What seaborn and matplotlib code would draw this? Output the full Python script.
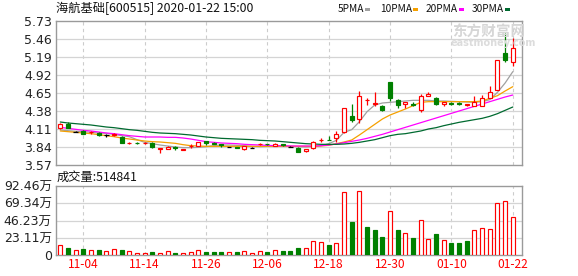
import numpy as np
import pandas as pd
import matplotlib
matplotlib.use("Agg")
import matplotlib.pyplot as plt
import seaborn as sns
from matplotlib.patches import Rectangle

# ---------------- data ----------------
trade_days = [d.strftime("%m-%d") for d in pd.bdate_range("2019-10-30", "2020-01-22")
              if d.strftime("%Y-%m-%d") != "2020-01-01"]

opens = [4.12, 4.18, 4.07, 4.085, 4.06, 4.055, 4.015, 4.025, 3.995, 3.90,
         3.90, 3.895, 3.895, 3.815, 3.81, 3.845, 3.80, 3.85, 3.85, 3.93,
         3.895, 3.89, 3.84, 3.84, 3.81, 3.83, 3.885, 3.885, 3.86, 3.88,
         3.845, 3.83, 3.78, 3.83, 3.94, 3.95, 3.98, 4.06, 4.31, 4.255,
         4.54, 4.49, 4.46, 4.81, 4.54, 4.49, 4.485, 4.40, 4.60, 4.57,
         4.48, 4.50, 4.50, 4.465, 4.46, 4.46, 4.58, 4.70, 5.25, 5.12]
closes = [4.18, 4.12, 4.07, 4.035, 4.065, 4.015, 4.015, 4.03, 3.905, 3.905,
          3.895, 3.90, 3.835, 3.82, 3.845, 3.82, 3.805, 3.86, 3.91, 3.90,
          3.885, 3.87, 3.84, 3.83, 3.85, 3.83, 3.89, 3.88, 3.89, 3.865,
          3.845, 3.77, 3.81, 3.92, 3.95, 3.94, 4.03, 4.42, 4.245, 4.605,
          4.55, 4.50, 4.39, 4.57, 4.47, 4.51, 4.475, 4.60, 4.64, 4.49,
          4.51, 4.49, 4.49, 4.48, 4.51, 4.57, 4.66, 5.14, 5.14, 5.32]
highs = [4.20, 4.215, 4.08, 4.09, 4.075, 4.06, 4.04, 4.05, 4.01, 3.91,
         3.92, 3.92, 3.91, 3.825, 3.85, 3.85, 3.81, 3.89, 3.91, 3.935,
         3.92, 3.89, 3.845, 3.845, 3.855, 3.84, 3.895, 3.885, 3.895, 3.885,
         3.85, 3.835, 3.815, 3.935, 3.97, 4.01, 4.075, 4.42, 4.48, 4.68,
         4.58, 4.67, 4.47, 4.81, 4.56, 4.515, 4.51, 4.63, 4.66, 4.585,
         4.51, 4.51, 4.51, 4.49, 4.61, 4.62, 4.76, 5.14, 5.545, 5.47]
lows = [4.11, 4.12, 4.06, 4.03, 4.04, 4.00, 3.99, 4.00, 3.905, 3.89,
        3.88, 3.88, 3.83, 3.755, 3.81, 3.80, 3.79, 3.83, 3.85, 3.87,
        3.88, 3.84, 3.835, 3.82, 3.80, 3.82, 3.87, 3.87, 3.86, 3.86,
        3.84, 3.765, 3.77, 3.81, 3.91, 3.94, 3.915, 4.05, 4.21, 4.195,
        4.47, 4.46, 4.38, 4.53, 4.42, 4.43, 4.46, 4.37, 4.60, 4.475,
        4.455, 4.47, 4.465, 4.46, 4.455, 4.45, 4.575, 4.69, 5.11, 5.06]

ma5 = [4.095, 4.085, 4.075, 4.07, 4.06, 4.05, 4.045, 4.03, 4.01, 3.995,
       3.95, 3.91, 3.89, 3.87, 3.855, 3.84, 3.83, 3.83, 3.835, 3.845,
       3.86, 3.87, 3.87, 3.865, 3.86, 3.85, 3.845, 3.85, 3.855, 3.855,
       3.85, 3.845, 3.84, 3.845, 3.86, 3.89, 3.94, 4.06, 4.10, 4.22,
       4.37, 4.47, 4.50, 4.51, 4.52, 4.53, 4.54, 4.54, 4.54, 4.53,
       4.53, 4.525, 4.52, 4.515, 4.51, 4.52, 4.55, 4.66, 4.80, 4.97]
ma10 = [4.08, 4.07, 4.06, 4.05, 4.04, 4.025, 4.01, 3.995, 3.975, 3.96,
        3.945, 3.93, 3.92, 3.915, 3.905, 3.895, 3.875, 3.86, 3.855, 3.85,
        3.85, 3.85, 3.85, 3.85, 3.85, 3.85, 3.85, 3.85, 3.85, 3.85,
        3.85, 3.85, 3.85, 3.85, 3.855, 3.865, 3.89, 3.915, 3.945, 4.02,
        4.10, 4.18, 4.26, 4.32, 4.365, 4.41, 4.46, 4.51, 4.52, 4.52,
        4.52, 4.52, 4.52, 4.52, 4.52, 4.53, 4.57, 4.61, 4.68, 4.745]
ma20 = [4.135, 4.12, 4.105, 4.09, 4.08, 4.065, 4.05, 4.04, 4.025, 4.01,
        4.00, 3.99, 3.99, 3.99, 3.985, 3.985, 3.975, 3.96, 3.94, 3.92,
        3.91, 3.90, 3.895, 3.89, 3.88, 3.875, 3.87, 3.865, 3.86, 3.86,
        3.855, 3.855, 3.855, 3.855, 3.86, 3.87, 3.885, 3.905, 3.925, 3.945,
        3.97, 4.00, 4.03, 4.065, 4.10, 4.135, 4.17, 4.205, 4.24, 4.275,
        4.31, 4.345, 4.38, 4.415, 4.45, 4.485, 4.52, 4.555, 4.59, 4.62]
ma30 = [4.215, 4.20, 4.19, 4.18, 4.17, 4.155, 4.14, 4.13, 4.115, 4.10,
        4.09, 4.075, 4.06, 4.05, 4.045, 4.04, 4.03, 4.02, 4.005, 3.99,
        3.98, 3.97, 3.965, 3.96, 3.955, 3.95, 3.94, 3.935, 3.93, 3.92,
        3.91, 3.90, 3.89, 3.885, 3.88, 3.88, 3.88, 3.885, 3.895, 3.91,
        3.93, 3.95, 3.98, 4.01, 4.03, 4.04, 4.06, 4.08, 4.11, 4.13,
        4.16, 4.185, 4.21, 4.23, 4.25, 4.27, 4.30, 4.34, 4.39, 4.44]

volume_wan = [12.9, 9.3, 6.2, 8.0, 6.2, 6.7, 4.9, 7.6, 6.7, 4.9,
              2.7, 2.7, 4.0, 2.7, 4.9, 2.7, 2.7, 3.6, 6.2, 4.0,
              4.0, 4.0, 3.6, 4.0, 5.3, 2.7, 4.9, 4.0, 6.2, 5.3,
              5.3, 9.3, 9.3, 18.7, 17.3, 13.3, 16.0, 84.1, 44.0, 85.4,
              37.4, 33.4, 24.0, 58.7, 33.4, 29.3, 22.7, 46.7, 21.3, 28.0,
              20.0, 16.0, 16.0, 18.7, 33.4, 36.0, 34.7, 69.4, 72.0, 51.4841]
volume_up = [1, 0, 1, 0, 1, 0, 1, 1, 0, 1,
             1, 1, 0, 1, 1, 0, 1, 1, 1, 0,
             0, 0, 1, 0, 1, 1, 1, 0, 1, 0,
             0, 0, 1, 1, 1, 0, 1, 1, 0, 1,
             0, 0, 0, 1, 0, 1, 0, 1, 1, 0,
             1, 0, 0, 0, 1, 1, 1, 1, 1, 1]

price_ticks = [3.57, 3.84, 4.11, 4.38, 4.65, 4.92, 5.19, 5.46, 5.73]
vol_ticks = [0, 23.11, 46.23, 69.34, 92.46]
vol_tick_labels = ["0", "23.11万", "46.23万", "69.34万", "92.46万"]
date_ticks = ["11-04", "11-14", "11-26", "12-06", "12-18", "12-30", "01-10", "01-22"]
title = "海航基础[600515] 2020-01-22 15:00"
vol_title = "成交量:514841"
ma_names = ["5PMA", "10PMA", "20PMA", "30PMA"]

# ---------------- style ----------------
sns.set_style("white")
plt.rcParams["font.family"] = ["DejaVu Sans", "Noto Sans CJK SC"]

RED = "#ff0000"
GREEN = "#008000"
BLACK = "#000000"
MA_COLORS = ["#a0a0a0", "#f5a000", "#ff00ff", "#006a30"]
GRID = "#d4d4d4"
BORDER = "#9a9a9a"

W, H = 578, 276
fig = plt.figure(figsize=(W / 100, H / 100), dpi=100)
fig.patch.set_facecolor("white")


def fx(px):
    return px / W


def fy(py):
    return 1 - py / H


ax = fig.add_axes([fx(56), fy(165), fx(522) - fx(56), fy(21) - fy(165)])
axv = fig.add_axes([fx(56), fy(255), fx(522) - fx(56), fy(186) - fy(255)])

n = len(closes)
idx = np.arange(n)
tick_pos = [trade_days.index(t) for t in date_ticks]
XL = (-0.56, 60.2)

for a in (ax, axv):
    a.set_xlim(*XL)
    for s in a.spines.values():
        s.set_color(BORDER)
        s.set_linewidth(1.0)
    a.tick_params(axis="both", length=0, pad=3)
    for t in tick_pos:
        a.axvline(t, color="#cccccc", lw=0.8, ls=(0, (3, 3)), zorder=0.5)

# price panel
ax.set_ylim(price_ticks[0], price_ticks[-1])
for v in price_ticks[1:-1]:
    ax.axhline(v, color=GRID, lw=0.9, zorder=0.5)
ax.set_yticks(price_ticks)
ax.set_yticklabels([f"{v:.2f}" for v in price_ticks], fontsize=9, color="#222222")
ax.set_xticks([])

# watermark
fig.text(fx(452), fy(31.5), "东方财富网", fontsize=10.5, fontweight="bold",
         color="#d6d6d6", family=["Noto Sans CJK SC"], va="center", ha="left", zorder=0)
fig.text(fx(451), fy(43), "eastmoney.com", fontsize=7, fontweight="bold",
         color="#dcdcdc", va="center", ha="left", zorder=0)

ma_df = pd.DataFrame({"i": idx, "5PMA": ma5, "10PMA": ma10, "20PMA": ma20, "30PMA": ma30})
for name, col in zip(ma_names, MA_COLORS):
    sns.lineplot(data=ma_df, x="i", y=name, ax=ax, color=col, lw=0.9, zorder=2)
ax.set_xlabel("")
ax.set_ylabel("")

bw = 0.52
for i in range(n):
    o, c, h, l = opens[i], closes[i], highs[i], lows[i]
    col = RED if c > o else (GREEN if c < o else BLACK)
    ax.vlines(i, l, h, color=col, lw=0.9, zorder=3)
    if c == o:
        ax.hlines(o, i - bw / 2 - 0.06, i + bw / 2 + 0.06, color=col, lw=0.9, zorder=4)
    else:
        fc = "white" if c > o else col
        ax.bar(i, abs(c - o), bottom=min(o, c), width=bw, facecolor=fc,
               edgecolor=col, linewidth=0.85, zorder=4)

# volume panel
axv.set_ylim(0, vol_ticks[-1])
for v in vol_ticks[1:-1]:
    axv.axhline(v, color=GRID, lw=0.9, zorder=0.5)
axv.set_yticks(vol_ticks)
axv.set_yticklabels(vol_tick_labels, fontsize=9, color="#222222")
axv.set_xticks(tick_pos)
axv.set_xticklabels(date_ticks, fontsize=8.6, color=RED, family=["Noto Sans CJK SC"])
axv.tick_params(axis="x", pad=2)
for i in range(n):
    col = RED if volume_up[i] else GREEN
    fc = "white" if volume_up[i] else col
    axv.bar(i, volume_wan[i], width=bw, facecolor=fc, edgecolor=col,
            linewidth=0.85, zorder=3)

# header texts
fig.text(fx(56), fy(8.5), title, fontsize=8.8, color="#111111",
         family=["Noto Sans CJK SC"], va="center", ha="left")
fig.text(fx(57), fy(177.5), vol_title, fontsize=8.8, color="#111111",
         family=["Noto Sans CJK SC"], va="center", ha="left")

leg_x = [338, 380, 426, 472]
for name, col, x0 in zip(ma_names, MA_COLORS, leg_x):
    t = fig.text(fx(x0), fy(8.7), name, fontsize=7.3, color="#111111",
                 family=["Noto Sans CJK SC"], va="center", ha="left")
    fig.canvas.draw() if False else None
for col, x0 in zip(MA_COLORS, [365, 413, 459, 505]):
    fig.patches.append(Rectangle((fx(x0), fy(10.8)), fx(5), 3 / H,
                                 transform=fig.transFigure, facecolor=col,
                                 edgecolor="none"))

fig.savefig("out.png", dpi=100, facecolor="white")
